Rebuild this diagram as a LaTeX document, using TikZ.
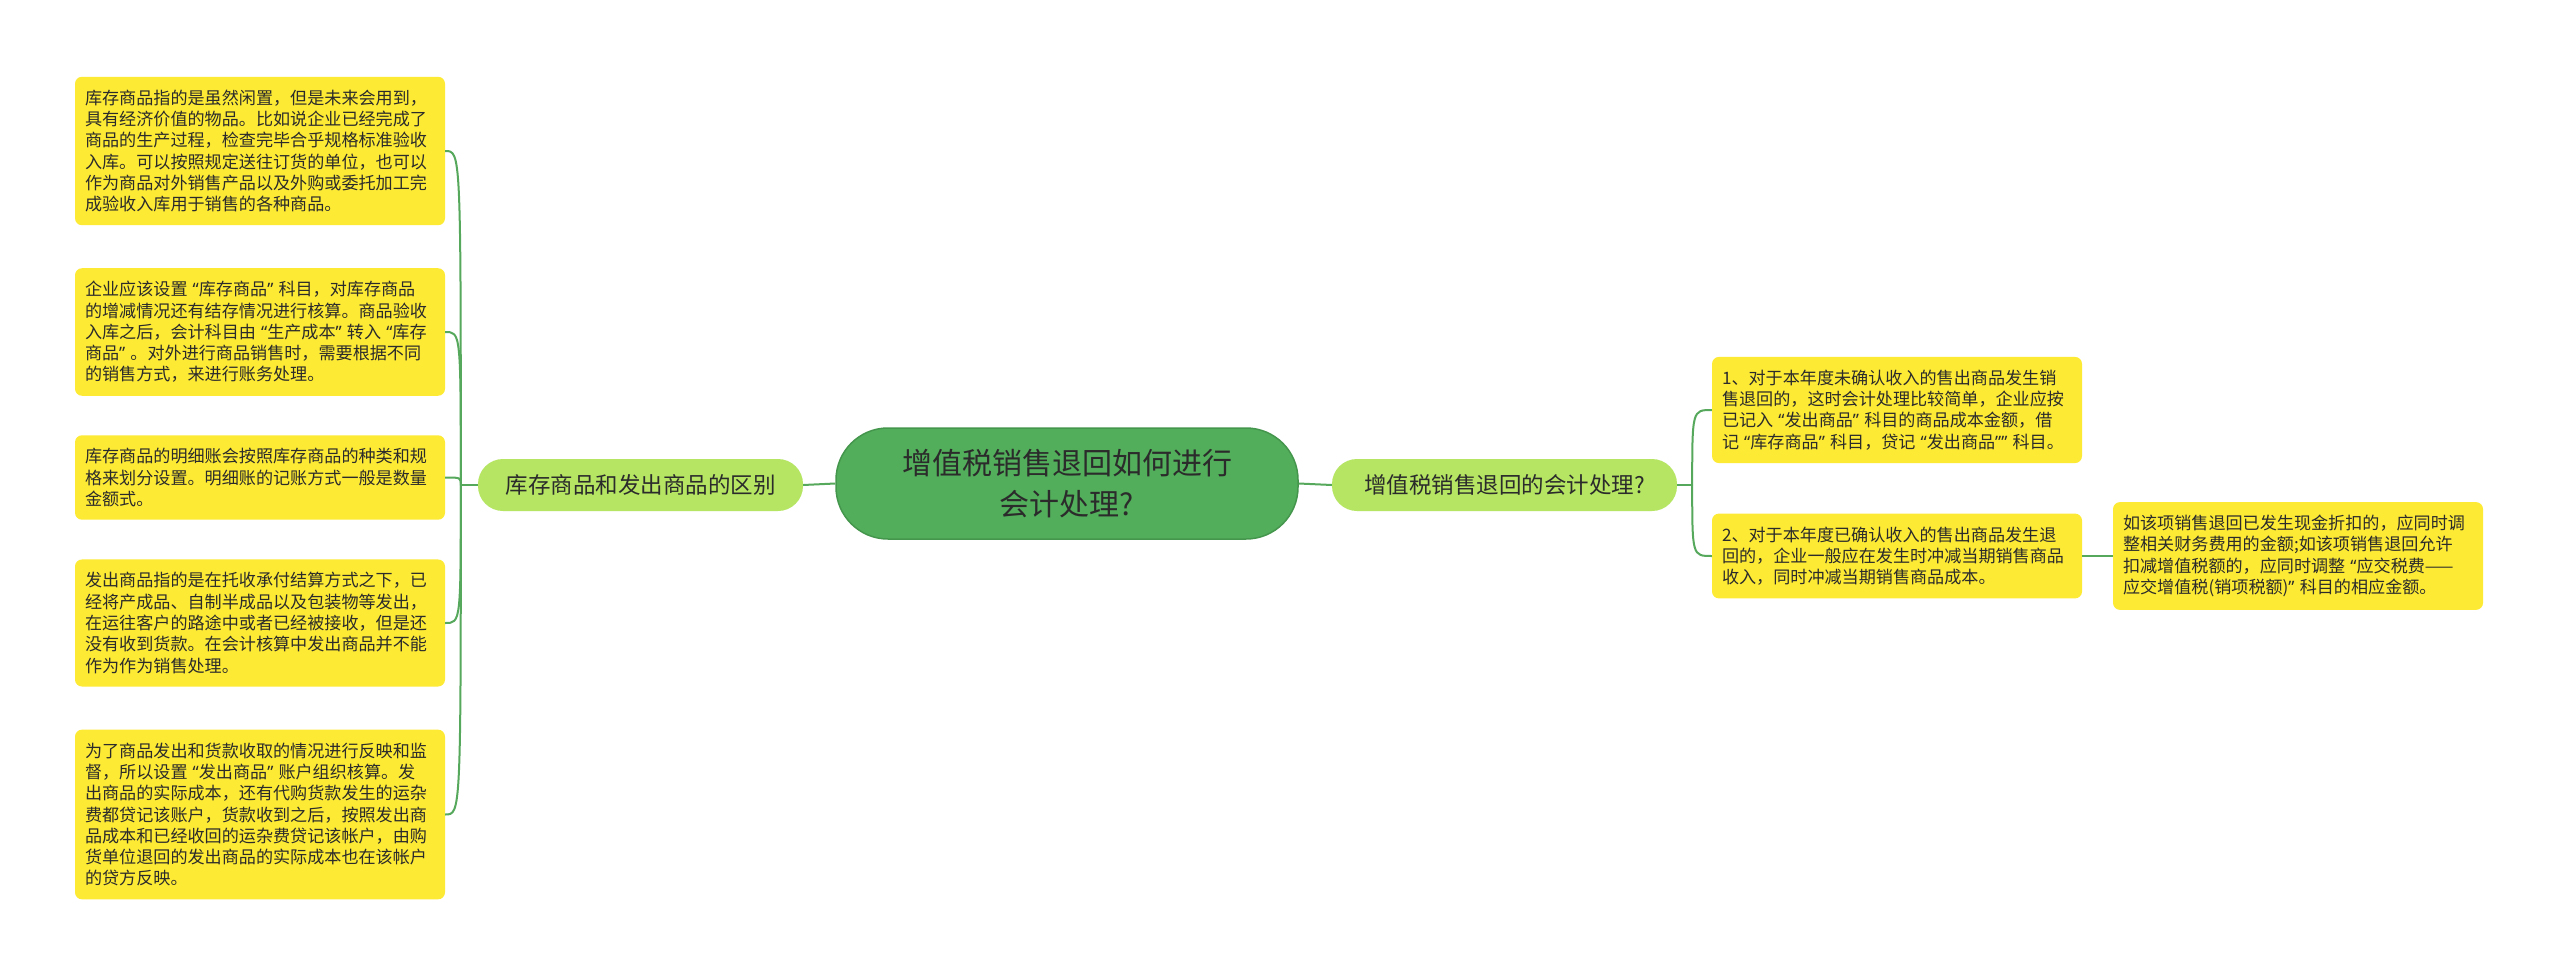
\documentclass[tikz,border=0pt]{standalone}
\usepackage{fontspec}
\setmainfont{Noto Sans CJK SC}
\newfontfamily\quotefont{Noto Sans}
\newcommand{\oq}{\hspace{0.3em}{\quotefont “}}
\newcommand{\cq}{{\quotefont ”}\hspace{0.3em}}
\usepackage{tikz}
\definecolor{rootgreen}{HTML}{52AE5B}
\definecolor{rootborder}{HTML}{45964D}
\definecolor{branchgreen}{HTML}{B5E563}
\definecolor{leafyellow}{HTML}{FDEA35}
\definecolor{linkgreen}{HTML}{55A85C}
\definecolor{inkgray}{HTML}{2B2B2B}

\begin{document}
\begin{tikzpicture}[x=1pt, y=-1pt,
    root/.style={rectangle, draw=rootborder, fill=rootgreen, line width=1.5pt, rounded corners=52pt, minimum width=462pt, minimum height=111pt, align=center, text=inkgray, font=\fontsize{30}{41}\selectfont},
    branch/.style={rectangle, fill=branchgreen, rounded corners=25pt, minimum height=52pt, align=center, text=inkgray, font=\fontsize{22.5}{27}\selectfont},
    leaf/.style={rectangle, fill=leafyellow, rounded corners=7pt, text width=350pt, inner xsep=10pt, inner ysep=13pt, align=left, text=inkgray, font=\fontsize{17.1}{21.3}\selectfont},
    link/.style={draw=linkgreen, line width=2pt}
]

% Canvas
\fill[white] (0,0) rectangle (2560,979);
\useasboundingbox (0,0) rectangle (2560,979);

% Root
\node[root] (C) at (1067, 483.5) {增值税销售退回如何进行\\会计处理?};

% Branch 1: 库存商品和发出商品的区别
\node[branch, minimum width=325pt] (B1) at (640.5, 485) {库存商品和发出商品的区别};
\node[leaf] (B1a) at (260, 151) {库存商品指的是虽然闲置，但是未来会用到，\\具有经济价值的物品。比如说企业已经完成了\\商品的生产过程，检查完毕合乎规格标准验收\\入库。可以按照规定送往订货的单位，也可以\\作为商品对外销售产品以及外购或委托加工完\\成验收入库用于销售的各种商品。};
\node[leaf] (B1b) at (260, 332) {企业应该设置\oq 库存商品\cq 科目，对库存商品\\的增减情况还有结存情况进行核算。商品验收\\入库之后，会计科目由\oq 生产成本\cq 转入\oq 库存\\商品\cq 。对外进行商品销售时，需要根据不同\\的销售方式，来进行账务处理。};
\node[leaf] (B1c) at (260, 477.5) {库存商品的明细账会按照库存商品的种类和规\\格来划分设置。明细账的记账方式一般是数量\\金额式。};
\node[leaf] (B1d) at (260, 623) {发出商品指的是在托收承付结算方式之下，已\\经将产成品、自制半成品以及包装物等发出，\\在运往客户的路途中或者已经被接收，但是还\\没有收到货款。在会计核算中发出商品并不能\\作为作为销售处理。};
\node[leaf] (B1e) at (260, 814.5) {为了商品发出和货款收取的情况进行反映和监\\督，所以设置\oq 发出商品\cq 账户组织核算。发\\出商品的实际成本，还有代购货款发生的运杂\\费都贷记该账户，货款收到之后，按照发出商\\品成本和已经收回的运杂费贷记该帐户，由购\\货单位退回的发出商品的实际成本也在该帐户\\的贷方反映。};

% Branch 2: 增值税销售退回的会计处理?
\node[branch, minimum width=345pt] (B2) at (1504.5, 485) {增值税销售退回的会计处理?};
\node[leaf] (B2a) at (1897, 410) {1、对于本年度未确认收入的售出商品发生销\\售退回的，这时会计处理比较简单，企业应按\\已记入\oq 发出商品\cq 科目的商品成本金额，借\\记\oq 库存商品\cq 科目，贷记\oq 发出商品{\quotefont ”}\cq 科目。};
\node[leaf] (B2b) at (1897, 556) {2、对于本年度已确认收入的售出商品发生退\\回的，企业一般应在发生时冲减当期销售商品\\收入，同时冲减当期销售商品成本。};
\node[leaf] (B2c) at (2298, 556) {如该项销售退回已发生现金折扣的，应同时调\\整相关财务费用的金额;如该项销售退回允许\\扣减增值税额的，应同时调整\oq 应交税费——\\应交增值税(销项税额)\cq 科目的相应金额。};

% Links
\draw[link] (C.west) -- (B1.east);
\draw[link] (C.east) -- (B2.west);

\coordinate (B1s) at ([xshift=-17pt]B1.west);
\draw[link] (B1.west) -- (B1s);
\foreach \leafname in {B1a, B1b, B1c, B1d, B1e}
  \draw[link] (B1s) .. controls (B1s |- \leafname.east) .. (\leafname.east);

\coordinate (B2s) at ([xshift=15pt]B2.east);
\draw[link] (B2.east) -- (B2s);
\foreach \leafname in {B2a, B2b}
  \draw[link] (B2s) .. controls (B2s |- \leafname.west) .. (\leafname.west);

\draw[link] (B2b.east) -- (B2c.west);

\end{tikzpicture}
\end{document}
